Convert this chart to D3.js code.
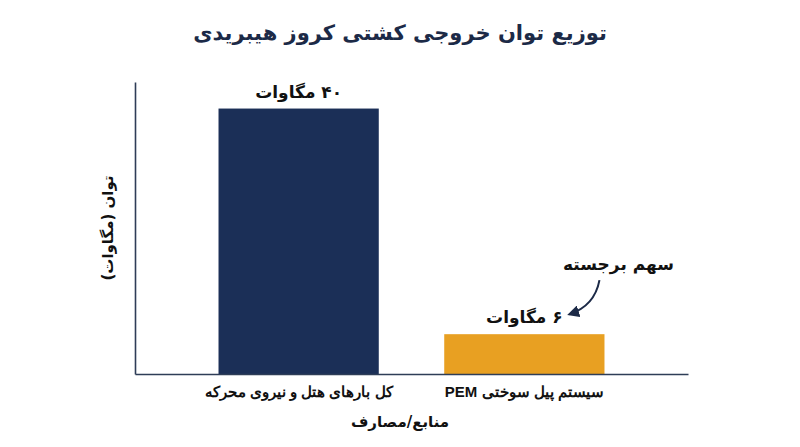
<!DOCTYPE html>
<html lang="fa" dir="rtl">
<head>
<meta charset="utf-8">
<script src="https://cdn.jsdelivr.net/npm/d3@7"></script>
<style>
  body { margin: 0; background: #fff; }
  svg { font-family: "DejaVu Sans", sans-serif; }
</style>
</head>
<body>
<svg id="chart" width="800" height="447"></svg>
<script>
// Data
var categories = ["کل بارهای هتل و نیروی محرکه", "سیستم پیل سوختی PEM"];
var values = [40, 6];
var valueLabels = ["۴۰ مگاوات", "۶ مگاوات"];
var barColors = ["#1b2f57", "#e8a022"];
var titleText = "توزیع توان خروجی کشتی کروز هیبریدی";
var yLabelText = "توان (مگاوات)";
var xLabelText = "منابع/مصارف";
var noteText = "سهم برجسته";

var svg = d3.select("#chart");
var margin = {left: 135, right: 112, top: 82, bottom: 73};
var width = 800, height = 447;

var x = d3.scaleBand()
    .domain(categories)
    .range([margin.left, width - margin.right])
    .paddingInner(0.29)
    .paddingOuter(0.37);

var y = d3.scaleLinear()
    .domain([0, 44])
    .range([height - margin.bottom, margin.top]);

// Title
svg.append("text")
    .attr("x", 400).attr("y", 40)
    .attr("text-anchor", "middle")
    .style("font-size", "21px").style("font-weight", "bold")
    .attr("fill", "#1c2a47")
    .text(titleText);

// Bars
svg.selectAll("rect.bar")
    .data(values)
    .enter().append("rect")
    .attr("class", "bar")
    .attr("x", function (d, i) { return x(categories[i]); })
    .attr("y", function (d) { return y(d); })
    .attr("width", x.bandwidth())
    .attr("height", function (d) { return y(0) - y(d); })
    .attr("fill", function (d, i) { return barColors[i]; });

// Value labels
svg.selectAll("text.val")
    .data(values)
    .enter().append("text")
    .attr("class", "val")
    .attr("x", function (d, i) { return x(categories[i]) + x.bandwidth() / 2; })
    .attr("y", function (d) { return y(d) - 11; })
    .attr("text-anchor", "middle")
    .style("font-size", "17px").style("font-weight", "bold")
    .attr("fill", "#111")
    .text(function (d, i) { return valueLabels[i]; });

// Axes
var xAxis = svg.append("g")
    .attr("transform", "translate(0," + y(0) + ")")
    .call(d3.axisBottom(x).tickSize(0).tickPadding(12).tickSizeOuter(0));
xAxis.select(".domain").attr("stroke", "#2e3d57").attr("stroke-width", 1.6);
xAxis.selectAll("text")
    .style("font-size", "15px").style("font-weight", "bold")
    .attr("fill", "#111");

var yAxis = svg.append("g")
    .attr("transform", "translate(" + margin.left + ",0)")
    .call(d3.axisLeft(y).tickValues([]).tickSizeOuter(0));
yAxis.select(".domain").attr("stroke", "#2e3d57").attr("stroke-width", 1.6);

// Axis labels
svg.append("text")
    .attr("transform", "translate(113," + (margin.top + (y(0) - margin.top) / 2) + ") rotate(-90)")
    .attr("text-anchor", "middle")
    .style("font-size", "15px").style("font-weight", "bold")
    .attr("fill", "#111")
    .text(yLabelText);

svg.append("text")
    .attr("x", 400)
    .attr("y", height - 20)
    .attr("text-anchor", "middle")
    .style("font-size", "15px").style("font-weight", "bold")
    .attr("fill", "#111")
    .text(xLabelText);

// Annotation for the PEM bar
var pemX = x(categories[1]) + x.bandwidth();
var pemY = y(values[1]);
svg.append("defs").append("marker")
    .attr("id", "arrow")
    .attr("viewBox", "0 0 10 10")
    .attr("refX", 8).attr("refY", 5)
    .attr("markerWidth", 6).attr("markerHeight", 6)
    .attr("orient", "auto")
    .append("path")
    .attr("d", "M0,0 L10,5 L0,10 z")
    .attr("fill", "#1c2a47");

svg.append("text")
    .attr("x", pemX + 14).attr("y", pemY - 64)
    .attr("text-anchor", "middle")
    .style("font-size", "17px").style("font-weight", "bold")
    .attr("fill", "#111")
    .text(noteText);

var arrowPath = d3.path();
arrowPath.moveTo(pemX - 5, pemY - 54);
arrowPath.quadraticCurveTo(pemX - 10, pemY - 28, pemX - 35, pemY - 20);
svg.append("path")
    .attr("d", arrowPath.toString())
    .attr("fill", "none")
    .attr("stroke", "#1c2a47")
    .attr("stroke-width", 2)
    .attr("marker-end", "url(#arrow)");
</script>
</body>
</html>
